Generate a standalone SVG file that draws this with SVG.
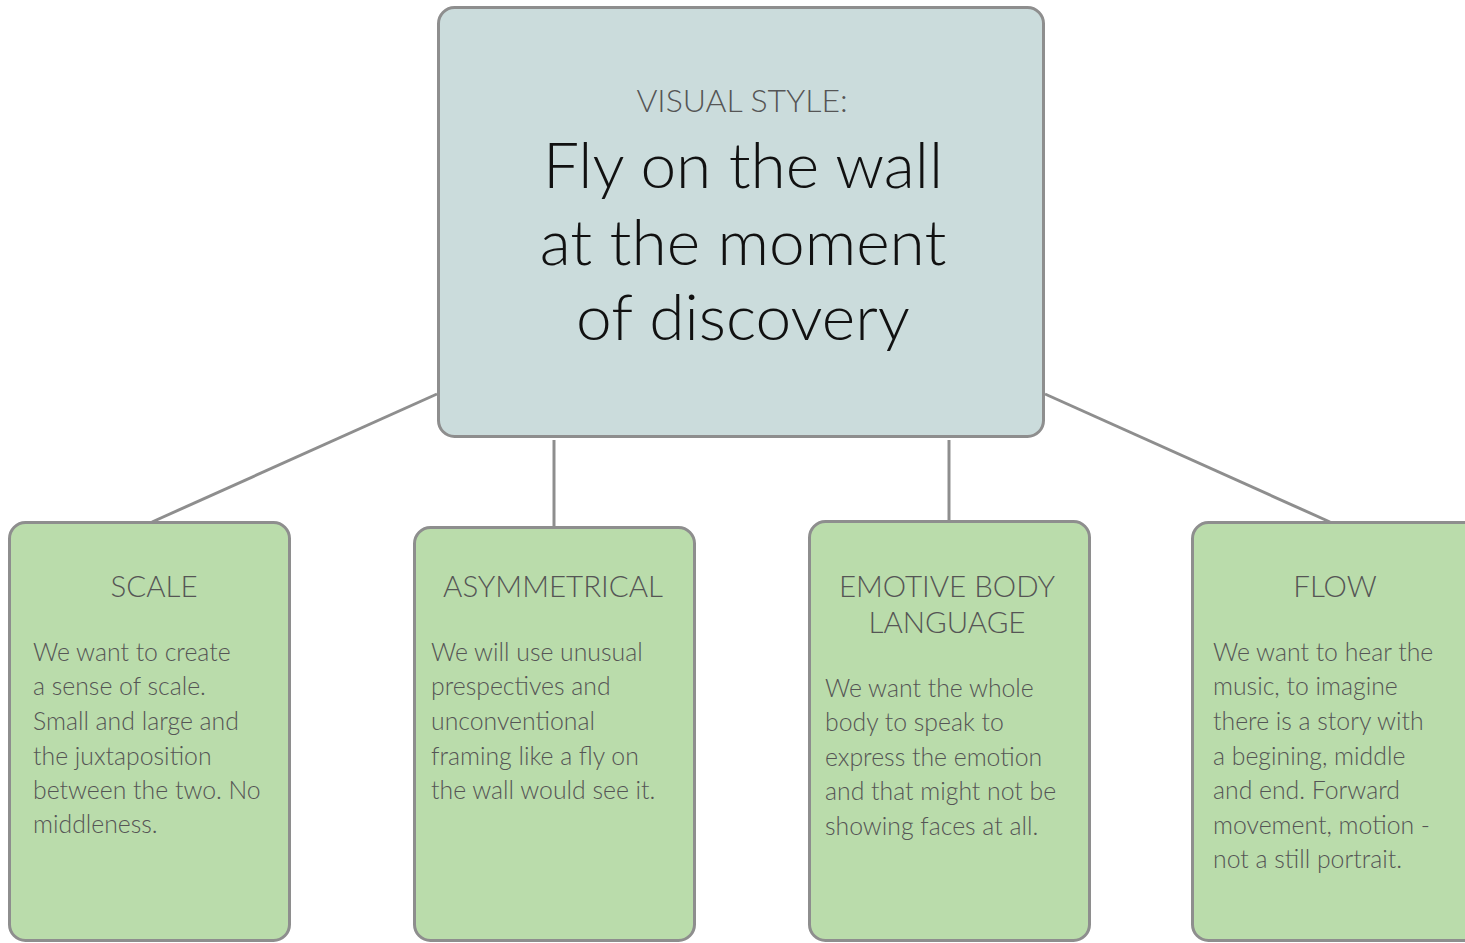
<svg xmlns="http://www.w3.org/2000/svg" width="1465" height="943" viewBox="0 0 1465 943">
<style>
.top{fill:#cbdcdc;stroke:#8e8e8e;stroke-width:3}
.card{fill:#badcab;stroke:#8e8e8e;stroke-width:3}
.conn{stroke:#8e8e8e;stroke-width:3;fill:none}
text{font-family:Lato,"Liberation Sans",sans-serif;font-weight:300}
.sub{font-size:32px;fill:#555;text-anchor:middle}
.main{font-size:64px;fill:#111;text-anchor:middle}
.ttl{font-size:29.5px;fill:#555;text-anchor:middle}
.body{font-size:24.8px;fill:#555}
</style>
<rect width="1465" height="943" fill="#fff"/>
<g id="connectors">
<line class="conn" x1="437" y1="394" x2="152" y2="522"/>
<line class="conn" x1="1045" y1="394" x2="1330" y2="522"/>
<line class="conn" x1="554" y1="440" x2="554" y2="526"/>
<line class="conn" x1="949" y1="440" x2="949" y2="521"/>
</g>
<g id="main">
<rect class="top" x="438.5" y="7.5" width="605" height="429" rx="16"/>
<text class="sub" x="742" y="112">VISUAL STYLE:</text>
<text class="main" x="743" y="188">Fly on the wall</text>
<text class="main" x="743" y="265">at the moment</text>
<text class="main" x="743" y="340">of discovery</text>
</g>
<g id="scale">
<rect class="card" x="9.5" y="522.5" width="280" height="418" rx="16"/>
<text class="ttl" x="154" y="597">SCALE</text>
<text class="body"><tspan x="33" y="661">We want to create</tspan><tspan x="33" y="695">a sense of scale.</tspan><tspan x="33" y="730">Small and large and</tspan><tspan x="33" y="765">the juxtaposition</tspan><tspan x="33" y="799">between the two. No</tspan><tspan x="33" y="833">middleness.</tspan></text>
</g>
<g id="asymmetrical">
<rect class="card" x="414.5" y="527.5" width="280" height="413" rx="16"/>
<text class="ttl" x="553" y="597">ASYMMETRICAL</text>
<text class="body"><tspan x="431" y="661">We will use unusual</tspan><tspan x="431" y="695">prespectives and</tspan><tspan x="431" y="730">unconventional</tspan><tspan x="431" y="765">framing like a fly on</tspan><tspan x="431" y="799">the wall would see it.</tspan></text>
</g>
<g id="emotive">
<rect class="card" x="809.5" y="521.5" width="280" height="419" rx="16"/>
<text class="ttl" x="947" y="597">EMOTIVE BODY</text>
<text class="ttl" x="947" y="633">LANGUAGE</text>
<text class="body"><tspan x="825" y="697">We want the whole</tspan><tspan x="825" y="731">body to speak to</tspan><tspan x="825" y="766">express the emotion</tspan><tspan x="825" y="800">and that might not be</tspan><tspan x="825" y="835">showing faces at all.</tspan></text>
</g>
<g id="flow">
<rect class="card" x="1192.5" y="522.5" width="290" height="418" rx="16"/>
<text class="ttl" x="1335" y="597">FLOW</text>
<text class="body"><tspan x="1213" y="661">We want to hear the</tspan><tspan x="1213" y="695">music, to imagine</tspan><tspan x="1213" y="730">there is a story with</tspan><tspan x="1213" y="765">a begining, middle</tspan><tspan x="1213" y="799">and end. Forward</tspan><tspan x="1213" y="834">movement, motion -</tspan><tspan x="1213" y="868">not a still portrait.</tspan></text>
</g>
</svg>
